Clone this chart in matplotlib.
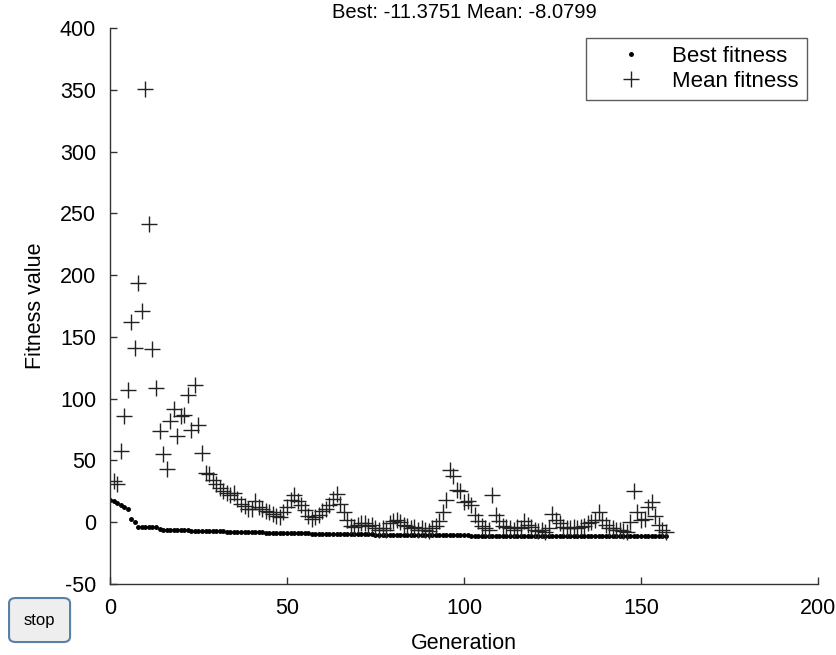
import matplotlib
matplotlib.use('Agg')
import matplotlib.pyplot as plt
from matplotlib.patches import FancyBboxPatch

plt.rcParams['font.family'] = ['Liberation Sans', 'DejaVu Sans']
plt.rcParams['axes.unicode_minus'] = False

# --- datos ---
generaciones = list(range(0, 158))

best_fitness = [
    18, 17, 15.5, 14, 12.5, 11, 3, 0, -3.5, -3.5,
    -3.5, -3.5, -3.5, -3.5, -5.5, -6, -6, -6.2, -6.2, -6.3,
    -6.5, -6.5, -6.6, -6.8, -6.8, -7, -7, -7.1, -7.2, -7.2,
    -7.4, -7.5, -7.5, -7.6, -7.7, -7.8, -7.8, -7.9, -8, -8,
    -8.1, -8.2, -8.2, -8.3, -8.4, -8.4, -8.5, -8.6, -8.6, -8.7,
    -8.8, -8.8, -8.9, -9, -9, -9, -9.1, -9.2, -9.2, -9.3,
    -9.3, -9.4, -9.4, -9.5, -9.5, -9.5, -9.6, -9.6, -9.7, -9.7,
    -9.8, -9.8, -9.8, -9.9, -9.9, -10, -10, -10, -10.1, -10.1,
    -10.1, -10.2, -10.2, -10.2, -10.3, -10.3, -10.3, -10.4, -10.4, -10.4,
    -10.5, -10.5, -10.5, -10.5, -10.6, -10.6, -10.6, -10.6, -10.7, -10.7,
    -10.7, -10.7, -10.8, -10.8, -10.8, -10.8, -10.9, -10.9, -10.9, -10.9,
    -10.9, -11, -11, -11, -11, -11, -11, -11.1, -11.1, -11.1,
    -11.1, -11.1, -11.1, -11.2, -11.2, -11.2, -11.2, -11.2, -11.2, -11.2,
    -11.3, -11.3, -11.3, -11.3, -11.3, -11.3, -11.3, -11.3, -11.3, -11.3,
    -11.3, -11.35, -11.35, -11.35, -11.35, -11.35, -11.35, -11.35, -11.35, -11.35,
    -11.37, -11.37, -11.37, -11.37, -11.37, -11.3751, -11.3751, -11.3751,
]

# mean fitness empieza en la generacion 1
gen_mean = generaciones[1:]
mean_fitness = [
    33, 31, 58, 86, 107, 162, 141, 194, 171, 351,          # 1-10
    241, 140, 109, 74, 55, 43, 82, 92, 70, 86,             # 11-20
    87, 103, 75, 111, 79, 56, 40, 39, 34, 31,              # 21-30
    28, 25, 24, 22, 24, 19, 15, 13, 11, 11,                # 31-40
    17, 12, 11, 9, 8, 7, 5, 4, 8, 12,                      # 41-50
    18, 22, 17, 14, 10, 5, 3, 4, 6, 9,                     # 51-60
    11, 14, 19, 23, 15, 8, 2, -3, -4, -2,                  # 61-70
    -1, -1, -3, -2, -5, -6, -5, -6, -1, 1,                 # 71-80
    2, 0, -2, -3, -5, -4, -6, -5, -6, -7,                  # 81-90
    -5, -3, 1, 8, 18, 42, 37, 26, 25, 16,                  # 91-100
    17, 14, 6, 1, -3, -5, -6, 22, 6, 1,                    # 101-110
    -3, -4, -5, -6, -4, -5, 1, -2, -4, -6,                 # 111-120
    -7, -6, -8, -5, 7, 2, -1, -4, -5, -5,                  # 121-130
    -4, -5, -4, -3, -1, 0, 2, 8, 2, -2,                    # 131-140
    -5, -5, -6, -6, -7, -8, 0, 25, 8, 2,                   # 141-150
    3, 12, 16, 5, -2, -6, -8.0799,                         # 151-157
]

fig = plt.figure(figsize=(8.37, 6.55), dpi=100)
ax = fig.add_axes([0.1314, 0.1084, 0.8459, 0.8489])

ax.plot(generaciones, best_fitness, linestyle='none', marker='.', color='black',
        markersize=5, label='Best fitness')
ax.plot(gen_mean, mean_fitness, linestyle='none', marker='+', color='#222222',
        markersize=11, markeredgewidth=1.0, label='Mean fitness')

ax.set_xlim(0, 200)
ax.set_ylim(-50, 400)
ax.set_xticks([0, 50, 100, 150, 200])
ax.set_yticks(list(range(-50, 401, 50)))
ax.tick_params(direction='in', length=5, width=1, color='#333333',
               labelsize=15.5, pad=10)

for lado in ['top', 'right']:
    ax.spines[lado].set_visible(False)
for lado in ['left', 'bottom']:
    ax.spines[lado].set_color('#333333')
    ax.spines[lado].set_linewidth(1.0)

ax.set_xlabel('Generation', fontsize=15.5, labelpad=10)
ax.set_ylabel('Fitness value', fontsize=15.5, labelpad=10)
ax.set_title('Best: -11.3751 Mean: -8.0799', fontsize=14.5, pad=7)

leg = ax.legend(loc='upper right', bbox_to_anchor=(0.984, 0.982), fontsize=16,
                frameon=True, fancybox=False, borderpad=0.35, handlelength=3.4,
                handletextpad=0.15, labelspacing=0.2, borderaxespad=0)
leg.get_frame().set_edgecolor('#333333')
leg.get_frame().set_linewidth(1.0)

# boton "stop"
boton = FancyBboxPatch((0.0108, 0.0198), 0.0729, 0.0672, transform=fig.transFigure,
                       boxstyle='round,pad=0,rounding_size=0.008',
                       facecolor='#eeeeee', edgecolor='#5b7fa8', linewidth=1.5)
fig.add_artist(boton)
fig.text(0.0108 + 0.0729 / 2, 0.0198 + 0.0672 / 2, 'stop', ha='center', va='center',
         fontsize=12)

plt.savefig('out.png', dpi=100)
